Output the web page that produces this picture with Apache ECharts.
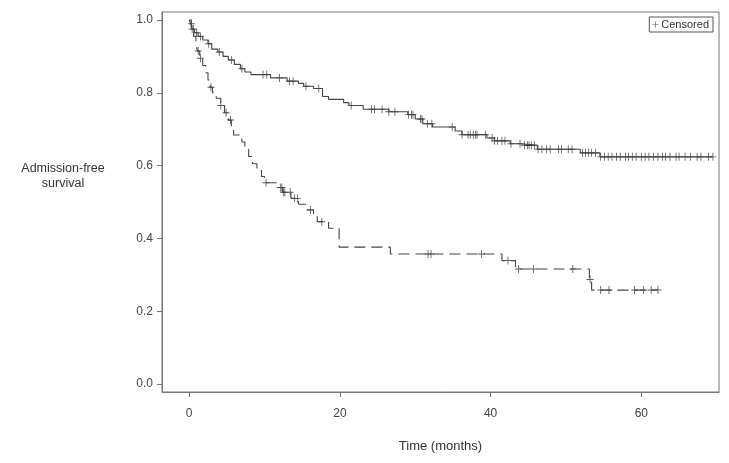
<!DOCTYPE html>
<html><head><meta charset="utf-8">
<script src="https://cdn.jsdelivr.net/npm/echarts@6/dist/echarts.min.js"></script>
<style>html,body{margin:0;padding:0;background:#fff}#c{width:729px;height:463px}</style>
</head><body><div id="c"></div>
<script>
// Group 1 (solid) Kaplan-Meier steps
const upperTimes = [0,0.2,0.4,0.7,1.2,1.8,2.5,3.0,3.8,4.5,5.2,6.0,6.8,7.4,8.2,10.8,13.0,14.5,15.2,16.5,17.7,18.5,20.5,21.2,23.1,26.5,29.0,30.0,31.0,32.3,35.3,36.2,39.5,40.5,42.6,44.0,46.2,51.9,54.5,69.5];
const upperSurv  = [1.0,0.99,0.975,0.965,0.955,0.945,0.935,0.92,0.912,0.90,0.89,0.878,0.866,0.857,0.850,0.841,0.832,0.826,0.818,0.812,0.790,0.782,0.773,0.765,0.755,0.748,0.740,0.728,0.715,0.706,0.695,0.685,0.676,0.668,0.660,0.656,0.645,0.635,0.624,0.624];
const upperCensored = [0.3,0.6,1.0,1.5,2.6,4.0,5.6,7.0,9.8,10.3,12.0,13.3,13.8,15.5,17.2,21.5,24.2,24.6,25.6,26.5,27.3,29.1,29.5,29.7,30.7,30.9,31.6,32.2,34.9,36.2,37.0,37.3,37.7,38.0,38.2,39.3,40.2,40.5,40.9,41.5,41.9,42.7,43.9,44.5,44.9,45.1,45.4,45.8,46.3,46.8,47.4,47.9,49.0,49.4,50.3,50.8,52.2,52.6,53.0,53.4,53.9,54.6,55.1,55.6,56.1,56.7,57.2,57.9,58.3,58.8,59.3,60.0,60.5,61.0,61.6,62.2,62.8,63.2,63.8,64.6,65.0,65.8,66.5,67.4,67.9,68.9,69.5];
// Group 2 (dashed) Kaplan-Meier steps
const lowerTimes = [0,0.3,0.6,0.9,1.1,1.4,1.8,2.2,2.5,2.8,3.1,3.6,4.2,4.7,5.2,5.6,5.9,7.0,7.4,7.9,8.4,9.0,9.6,10.0,11.8,12.4,13.5,14.5,15.5,16.5,17.0,18.5,19.9,26.7,41.5,43.3,53.1,53.4,62.2];
const lowerSurv  = [1.0,0.975,0.955,0.935,0.915,0.895,0.875,0.855,0.835,0.815,0.80,0.785,0.765,0.745,0.725,0.705,0.684,0.665,0.645,0.625,0.605,0.588,0.570,0.553,0.540,0.527,0.510,0.494,0.478,0.462,0.446,0.428,0.376,0.357,0.339,0.316,0.287,0.258,0.258];
const lowerCensored = [0.4,1.2,1.5,2.9,4.2,4.9,5.5,10.2,12.1,12.3,12.5,12.7,13.4,14.0,14.4,16.1,17.6,31.7,32.1,38.8,42.3,43.7,45.7,50.9,53.2,54.6,55.7,59.1,60.3,61.3,62.2];
const yTicks = [0,0.2,0.4,0.6,0.8,1.0];
const xTicks = [0,20,40,60];

function kmPoints(ts, ss){ return ts.map((t,i)=>[t, ss[i]]); }
function survAt(ts, ss, t){ let v = ss[0]; for (let i=0;i<ts.length;i++){ if (ts[i] <= t) v = ss[i]; } return v; }
const plusPath = 'path://M4.4,0H5.6V4.4H10V5.6H5.6V10H4.4V5.6H0V4.4H4.4Z';
const lineCol = '#444';

const chart = echarts.init(document.getElementById('c'), null, {renderer:'canvas'});
chart.setOption({
  animation:false,
  backgroundColor:'#fff',
  textStyle:{fontFamily:'Liberation Sans, Arial, sans-serif'},
  grid:{left:162, top:12, right:10, bottom:71, show:true, borderColor:'#777', borderWidth:1, backgroundColor:'transparent'},
  xAxis:{type:'value', min:-3.6, max:70.3,
    name:'Time (months)', nameLocation:'middle', nameGap:48,
    nameTextStyle:{fontSize:13, color:'#333'},
    axisLine:{show:true, onZero:false, lineStyle:{color:'#777'}},
    axisTick:{show:true, length:5, lineStyle:{color:'#777'}, customValues:xTicks},
    axisLabel:{color:'#444', fontSize:12, margin:16, customValues:xTicks},
    splitLine:{show:false}},
  yAxis:{type:'value', min:-0.022, max:1.022,
    axisLine:{show:true, onZero:false, lineStyle:{color:'#777'}},
    axisTick:{show:true, length:5, lineStyle:{color:'#777'}, customValues:yTicks},
    axisLabel:{color:'#444', fontSize:12, margin:9, customValues:yTicks, formatter:v=>v.toFixed(1)},
    splitLine:{show:false}},
  legend:{show:true, data:[{name:'Censored', icon:plusPath}], right:16, top:17,
    itemWidth:6, itemHeight:6, itemGap:4, padding:[2,4,2,3],
    borderColor:'#555', borderWidth:1, borderRadius:0,
    textStyle:{fontSize:11, color:'#333', padding:[0,0,0,-2]}},
  graphic:[{type:'text', x:63, y:176,
    style:{text:'Admission-free\nsurvival', fontSize:12.5, fill:'#333', textAlign:'center', textVerticalAlign:'middle', lineHeight:15, fontFamily:'Liberation Sans, Arial, sans-serif'}}],
  series:[
    {name:'Group 1', type:'line', step:'end', data:kmPoints(upperTimes, upperSurv), showSymbol:false, symbol:'none',
      lineStyle:{color:lineCol, width:1.1}, silent:true},
    {name:'Group 2', type:'line', step:'end', data:kmPoints(lowerTimes, lowerSurv), showSymbol:false, symbol:'none',
      lineStyle:{color:lineCol, width:1.1, type:[11,6]}, silent:true},
    {name:'Censored', type:'scatter', data:upperCensored.map(t=>[t, survAt(upperTimes, upperSurv, t)]),
      symbol:plusPath, symbolSize:[7,8], itemStyle:{color:'#333'}},
    {name:'Censored', type:'scatter', data:lowerCensored.map(t=>[t, survAt(lowerTimes, lowerSurv, t)]),
      symbol:plusPath, symbolSize:[7,8], itemStyle:{color:'#333'}}
  ]
});
</script></body></html>
